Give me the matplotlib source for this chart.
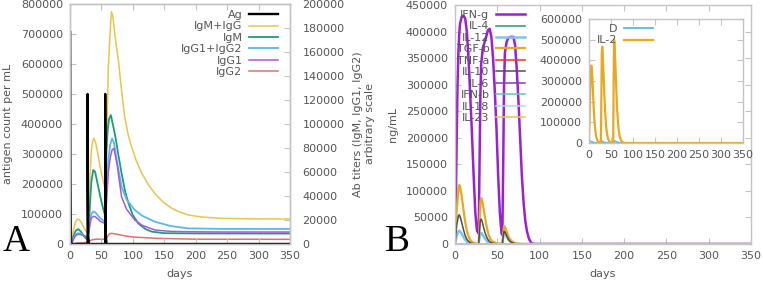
import matplotlib.pyplot as plt

# ---- panel A: antigen and antibody titers ----
ag_days = [0, 0, 0.4, 1.0, 2, 28, 28, 28.4, 29.0, 30, 56, 56, 56.4, 57.0, 58, 350]
ag_vals = [0, 710000, 250000, 40000, 0, 0, 500000, 180000, 30000, 0, 0, 500000, 180000, 30000, 0, 0]

igmg_days = [0, 3, 6, 9, 12, 15, 18, 21, 24, 28, 30, 32, 34, 36, 38, 41, 44, 48, 52, 56,
             58, 61, 64, 66, 68, 72, 77, 82, 87, 93, 98, 105, 114, 124, 135, 148, 162,
             175, 188, 210, 240, 280, 350]
igmg_vals = [0, 5000, 13000, 18500, 20800, 20200, 18000, 15000, 12000, 9000, 30000, 58000,
             78000, 86000, 88000, 84000, 76000, 64000, 54000, 46000, 80000, 148000, 178000,
             193600, 190000, 172000, 153000, 128000, 106000, 90000, 81000, 70000, 59000,
             50000, 42000, 35000, 29700, 26500, 24200, 22500, 21400, 21000, 20800]

igm_days = [0, 3, 6, 9, 13, 17, 21, 25, 28, 30, 32, 34, 37, 40, 44, 48, 52, 56, 58, 60, 62,
            65, 68, 72, 77, 82, 88, 93, 100, 109, 120, 130, 150, 200, 350]
igm_vals = [0, 2000, 7000, 11000, 12500, 10500, 7500, 4800, 3300, 15000, 35000, 52000,
            61700, 60000, 50000, 40000, 31000, 23000, 78000, 95000, 104000, 107500, 100000,
            90000, 74000, 59000, 43000, 34000, 24000, 17000, 12500, 10300, 9000, 8800, 8700]

igg_days = [0, 3, 6, 9, 13, 17, 21, 25, 28, 30, 32, 34, 37, 40, 44, 48, 52, 56, 58, 61, 64,
            67, 70, 75, 82, 90, 103, 115, 135, 160, 188, 240, 350]
igg12_vals = [0, 1500, 5000, 8000, 9000, 8500, 7500, 6500, 5800, 12000, 20000, 25000, 27000,
              26500, 24000, 21500, 20000, 18600, 40000, 70000, 83000, 88000, 84000, 68000,
              47700, 37000, 28300, 23500, 18600, 15000, 13000, 12600, 12500]
igg1_vals = [0, 1300, 4500, 7000, 8200, 7800, 7000, 6000, 5200, 10000, 17000, 21500, 23000,
             22800, 21000, 19000, 18000, 17200, 35000, 60000, 72000, 78500, 79700, 66000,
             39400, 29000, 20000, 15500, 11700, 10500, 10200, 10000, 10000]

igg2_days = [0, 5, 13, 20, 28, 34, 40, 50, 56, 60, 63, 66, 72, 85, 100, 140, 200, 350]
igg2_vals = [0, 300, 900, 1000, 1500, 3300, 4000, 4000, 3900, 6500, 8500, 8900, 8400, 7000,
             5800, 4700, 4000, 3900]

# ---- panel B: cytokines ----
ifng_days = [0, 1, 2, 3, 4, 5, 6, 8, 10, 12, 14, 16, 18, 20, 22, 24, 26, 28,
             29, 30, 31, 33, 36, 39, 41, 43, 45, 47, 49, 51, 53, 55, 56,
             57, 58, 59, 61, 63, 66, 69, 71, 73, 75, 77, 79, 81, 83, 85, 87, 89, 91, 95, 350]
ifng_vals = [0, 80000, 200000, 300000, 360000, 395000, 415000, 428000, 430000, 425000,
             400000, 350000, 280000, 210000, 130000, 60000, 25000, 20000,
             150000, 280000, 340000, 370000, 385000, 403000, 405000, 390000, 350000,
             290000, 220000, 130000, 60000, 20000, 17000,
             150000, 300000, 360000, 380000, 388000, 390000, 390000, 375000, 330000,
             270000, 200000, 130000, 80000, 45000, 25000, 12000, 5000, 1000, 0, 0]

pulse_days = [0, 2, 4, 5, 6, 8, 10, 12, 14, 16, 18, 20, 24, 28,
              29, 30, 31, 32, 34, 36, 38, 40, 42, 45, 50, 56,
              57, 58, 59, 61, 63, 65, 68, 72, 80, 350]
tgfb_vals = [0, 60000, 105000, 111000, 108000, 90000, 65000, 42000, 25000, 14000, 8000,
             4000, 1000, 0, 40000, 80000, 86600, 82000, 65000, 45000, 28000, 16000, 9000,
             4000, 1000, 0, 20000, 34000, 32000, 24000, 15000, 9000, 4000, 1000, 0, 0]
il10_vals = [0, 35000, 53000, 55000, 52000, 40000, 27000, 16000, 9000, 5000, 2500, 1200,
             300, 0, 25000, 45000, 47000, 43000, 30000, 19000, 11000, 6000, 3000, 1200, 300,
             0, 15000, 24000, 23000, 16000, 9000, 5000, 2000, 500, 0, 0]
il12_vals = [0, 15000, 24000, 25000, 24000, 19000, 13000, 8000, 4500, 2500, 1200, 600,
             100, 0, 12000, 20000, 21000, 19000, 14000, 9000, 5000, 2800, 1400, 600, 100,
             0, 12000, 20000, 19500, 14000, 8500, 5000, 2000, 500, 0, 0]
flat_days = [0, 350]
flat_vals = [0, 0]

il2_days = [0, 2, 4, 5, 6, 8, 10, 12, 14, 16, 18, 20, 24, 27,
            28, 29, 30, 31, 33, 35, 37, 39, 41, 43, 46, 50, 55,
            56, 57, 58, 60, 62, 64, 66, 68, 70, 73, 77, 82, 350]
il2_vals = [0, 200000, 350000, 375000, 370000, 300000, 200000, 120000, 70000, 35000, 18000,
            8000, 2000, 0, 200000, 430000, 466000, 440000, 340000, 230000, 140000, 80000,
            45000, 22000, 8000, 2000, 0, 300000, 501000, 480000, 380000, 260000, 160000,
            95000, 55000, 30000, 12000, 3000, 0, 0]
d_days = [0, 3, 10, 20, 28, 30, 35, 45, 56, 58, 65, 75, 350]
d_vals = [15000, 8000, 2000, 0, 0, 8000, 2000, 0, 0, 10000, 3000, 0, 0]

W, H = 763, 281
FRAME = '#c4c4c4'
TXT = '#555555'
FS = 8

plt.rcParams['font.family'] = 'DejaVu Sans'
plt.rcParams['font.size'] = FS
plt.rcParams['text.color'] = TXT
plt.rcParams['axes.labelcolor'] = TXT


def box(l, t, r, b):
    return [l / W, (H - b) / H, (r - l) / W, (b - t) / H]


def style(ax, right=True, labelright=False):
    for s in ax.spines.values():
        s.set_color(FRAME)
        s.set_linewidth(1)
    ax.tick_params(direction='in', length=4, color=FRAME, labelcolor=TXT,
                   labelsize=FS, top=True, right=right, labelright=labelright, pad=5)
    ax.ticklabel_format(style='plain', useOffset=False)


def legend(ax, handles, x_end, top_px, height_px):
    # gnuplot-style key: label right-aligned, sample line on the right
    return ax.legend(handles=handles, loc='upper right',
                     bbox_to_anchor=(x_end, 1 - top_px / height_px),
                     frameon=False, markerfirst=False, fontsize=FS,
                     handlelength=2.6, handletextpad=0.6, labelspacing=0.13,
                     borderaxespad=0, borderpad=0)


fig = plt.figure(figsize=(W / 100, H / 100), dpi=100)

# panel A
axA = fig.add_axes(box(70, 4, 290, 244))
axA2 = axA.twinx()
axA.set_zorder(axA2.get_zorder() + 1)
axA.patch.set_visible(False)

h_ag, = axA.plot(ag_days, ag_vals, color='black', lw=1.7, label='Ag')
h1, = axA2.plot(igmg_days, igmg_vals, color='#e8c64a', lw=1.1, label='IgM+IgG')
h2, = axA2.plot(igm_days, igm_vals, color='#1a9e74', lw=1.3, label='IgM')
h3, = axA2.plot(igg_days, igg12_vals, color='#5ab8ea', lw=1.3, label='IgG1+IgG2')
h4, = axA2.plot(igg_days, igg1_vals, color='#a45ade', lw=1.1, label='IgG1')
h5, = axA2.plot(igg2_days, igg2_vals, color='#e07070', lw=1.1, label='IgG2')

axA.set_xlim(0, 350)
axA.set_ylim(0, 800000)
axA2.set_ylim(0, 200000)
axA.set_xticks(range(0, 351, 50))
axA.set_yticks(range(0, 800001, 100000))
axA2.set_yticks(range(0, 200001, 20000))
style(axA, right=False)
style(axA2, right=True, labelright=True)
axA2.tick_params(axis='y', pad=9)
axA.set_xlabel('days', labelpad=6)
axA.set_ylabel('antigen count per mL', labelpad=6)
axA2.set_ylabel('Ab titers (IgM, IgG1, IgG2)\narbitrary scale', labelpad=6)
legend(axA, [h_ag, h1, h2, h3, h4, h5], (278 - 70) / 220, 6, 240)

# panel B
axB = fig.add_axes(box(455, 5, 751, 244))
b_series = [
    (ifng_days, ifng_vals, '#9b1fd6', 1.8, 'IFN-g'),
    (flat_days, flat_vals, '#1a9e74', 1.1, 'IL-4'),
    (pulse_days, il12_vals, '#7cc6ee', 1.8, 'IL-12'),
    (pulse_days, tgfb_vals, '#eaa820', 1.6, 'TGF-b'),
    (flat_days, flat_vals, '#e8302a', 1.1, 'TNF-a'),
    (pulse_days, il10_vals, '#505050', 1.1, 'IL-10'),
    (flat_days, flat_vals, '#8e3aaa', 1.1, 'IL-6'),
    (flat_days, flat_vals, '#5ccaa8', 1.1, 'IFN-b'),
    (flat_days, flat_vals, '#a8dcec', 1.1, 'IL-18'),
    (flat_days, flat_vals, '#e8c64a', 1.1, 'IL-23'),
]
hb = []
for dd, vv, c, lw, lab in b_series:
    h, = axB.plot(dd, vv, color=c, lw=lw, label=lab)
    hb.append(h)
axB.set_xlim(0, 350)
axB.set_ylim(0, 450000)
axB.set_xticks(range(0, 351, 50))
axB.set_yticks(range(0, 450001, 50000))
style(axB)
axB.set_xlabel('days', labelpad=6)
axB.set_ylabel('ng/mL', labelpad=6)
legend(axB, hb, (525 - 455) / 296, 5, 239)

# inset
axI = fig.add_axes(box(589, 19, 743, 143))
hd, = axI.plot(d_days, d_vals, color='#5ab8ea', lw=1.3, label='D')
hi, = axI.plot(il2_days, il2_vals, color='#eaa820', lw=1.6, label='IL-2')
axI.set_xlim(0, 350)
axI.set_ylim(0, 600000)
axI.set_xticks(range(0, 351, 50))
axI.set_yticks(range(0, 600001, 100000))
style(axI)
legend(axI, [hd, hi], (653 - 589) / 154, 5, 124)

fig.text(3 / W, (H - 251) / H, 'A', fontsize=27, family='Liberation Serif',
         color='black', va='baseline')
fig.text(385 / W, (H - 251) / H, 'B', fontsize=27, family='Liberation Serif',
         color='black', va='baseline')

fig.savefig('out.png', dpi=100)
